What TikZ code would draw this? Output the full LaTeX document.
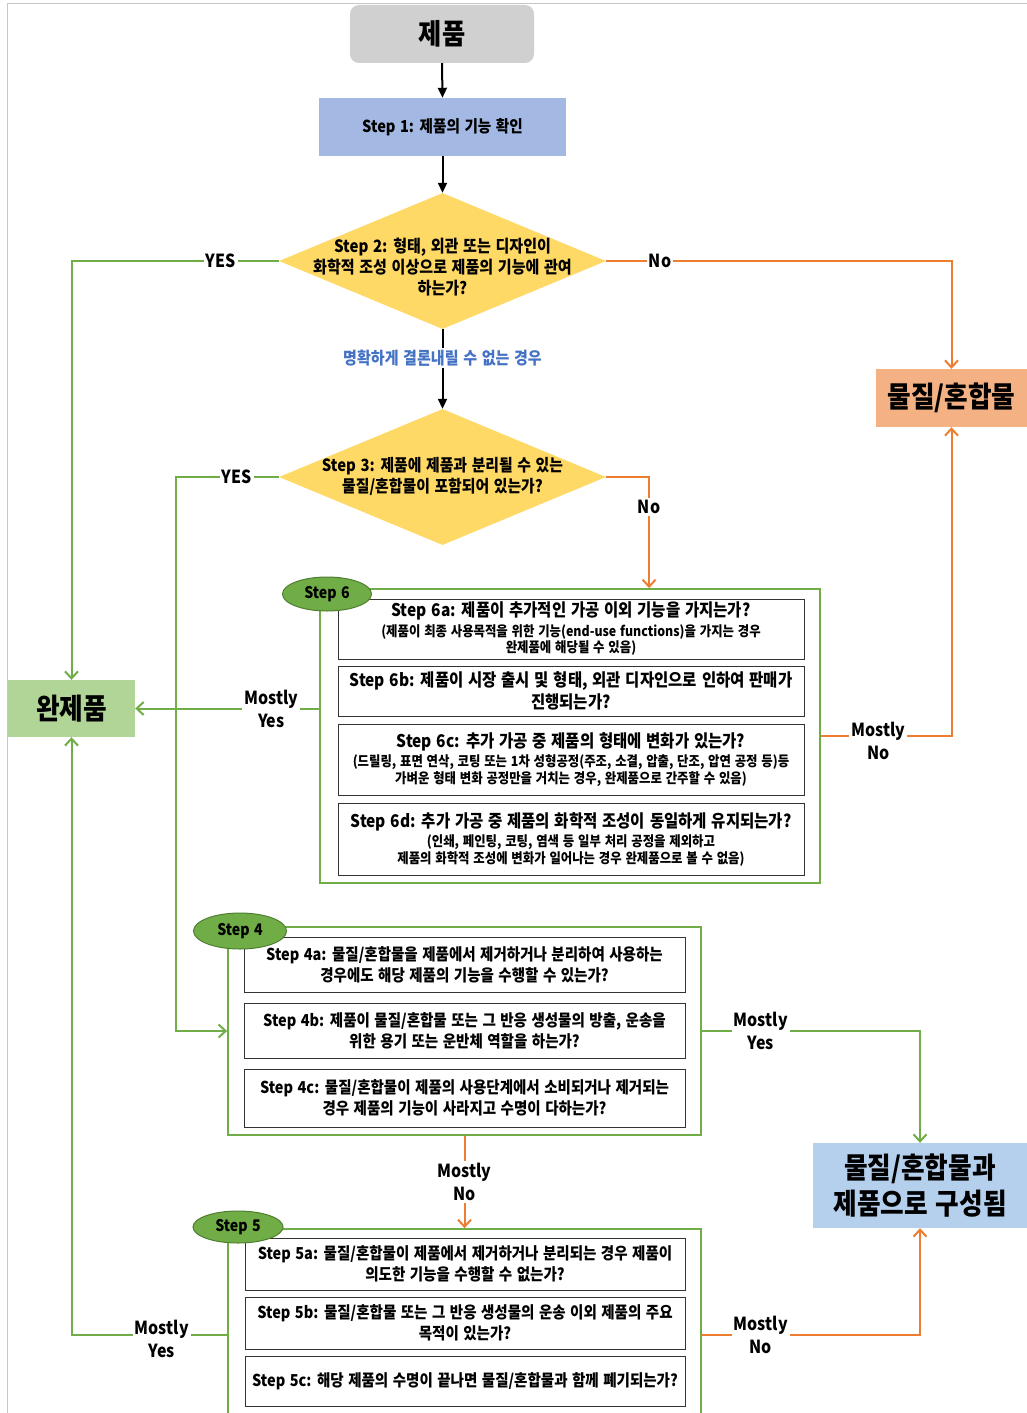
\documentclass[tikz,border=0pt]{standalone}
\usepackage{fontspec}
\setmainfont{Noto Sans CJK KR}[FakeStretch=0.885,WordSpace=1.35]
\usetikzlibrary{shapes.geometric,arrows.meta}
\definecolor{lgreen}{HTML}{70AD47}
\definecolor{dgreen}{HTML}{4E7F30}
\definecolor{lorange}{HTML}{ED7D31}
\definecolor{boxgray}{HTML}{D0D0D0}
\definecolor{steponeblue}{HTML}{A3B9E3}
\definecolor{dyellow}{HTML}{FFD966}
\definecolor{matorange}{HTML}{F4B183}
\definecolor{wangreen}{HTML}{B0D597}
\definecolor{mixblue}{HTML}{B4D0EC}
\definecolor{txtblue}{HTML}{4472C4}
\newcommand{\fsz}[2]{\fontsize{#1pt}{#2pt}\selectfont\bfseries}
\begin{document}
\begin{tikzpicture}[x=1pt,y=-1pt,
  qbox/.style={draw=black!80, line width=0.9pt, inner sep=0pt, align=center},
  frame/.style={draw=lgreen, line width=1.8pt, inner sep=0pt},
  stepoval/.style={ellipse, draw=dgreen, line width=1pt, fill=lgreen, inner sep=0pt, font=\fsz{16}{18}},
  bigbox/.style={inner sep=0pt, align=center, font=\fsz{29}{36}},
  lbl/.style={fill=white, inner sep=2pt, align=center, font=\fsz{18}{23}},
  blk/.style={draw=black, line width=2pt, -{Triangle[length=10pt,width=9pt]}},
  garr/.style={draw=lgreen, line width=2pt, -{Straight Barb[length=7pt,width=13pt,line width=2pt]}},
  oarr/.style={draw=lorange, line width=2pt, -{Straight Barb[length=7pt,width=13pt,line width=2pt]}}
]
\useasboundingbox (0,0) rectangle (1027,1413);
\clip (0,0) rectangle (1027,1413);
\fill[white] (0,0) rectangle (1027,1413);
\draw[gray!45, line width=1pt] (7,1413) -- (7,4) -- (1027,4);

% top nodes
\node[rounded corners=9pt, fill=boxgray, minimum width=184pt, minimum height=58pt, font=\fsz{28.5}{30}] (prod) at (442,34) {제품};
\node[fill=steponeblue, minimum width=247pt, minimum height=58pt, font=\fsz{16.5}{20}] (s1) at (442.5,127) {Step 1: 제품의 기능 확인};

% diamonds
\node[diamond, fill=dyellow, minimum width=327pt, minimum height=136pt, inner sep=0pt] (s2) at (442.5,261) {};
\node[align=center, font=\fsz{17}{21}] (s2t) at (442.5,267) {Step 2: 형태, 외관 또는 디자인이\\화학적 조성 이상으로 제품의 기능에 관여\\하는가?};
\node[diamond, fill=dyellow, minimum width=327pt, minimum height=136pt, inner sep=0pt] (s3) at (442.5,477) {};
\node[align=center, font=\fsz{16.8}{21}] (s3t) at (442.5,476.5) {Step 3: 제품에 제품과 분리될 수 있는\\물질/혼합물이 포함되어 있는가?};

% result boxes
\node[bigbox, fill=matorange, minimum width=151pt, minimum height=58pt] (mat) at (951.5,398) {물질/혼합물};
\node[bigbox, fill=wangreen, minimum width=127pt, minimum height=57pt] (wan) at (71.5,708.5) {완제품};
\node[bigbox, fill=mixblue, minimum width=214pt, minimum height=85pt] (mix) at (920,1185.5) {물질/혼합물과\\제품으로 구성됨};

% Step 6 frame
\node[frame, minimum width=500pt, minimum height=294pt] (f6) at (570,736) {};
\node[qbox, minimum width=466pt, minimum height=60pt, font=\fsz{14}{16.5}] (s6a) at (571,629) {{\fsz{17.5}{21}Step 6a: 제품이 추가적인 가공 이외 기능을 가지는가?}\\[3pt](제품이 최종 사용목적을 위한 기능(end-use functions)을 가지는 경우\\완제품에 해당될 수 있음)};
\node[qbox, minimum width=466pt, minimum height=50pt, font=\fsz{17.5}{22}] (s6b) at (571,691) {Step 6b: 제품이 시장 출시 및 형태, 외관 디자인으로 인하여 판매가\\진행되는가?};
\node[qbox, minimum width=466pt, minimum height=71pt, font=\fsz{14}{17}] (s6c) at (571,759.5) {{\fsz{17.5}{21}Step 6c: 추가 가공 중 제품의 형태에 변화가 있는가?}\\[2pt](드릴링, 표면 연삭, 코팅 또는 1차 성형공정(주조, 소결, 압출, 단조, 압연 공정 등)등\\가벼운 형태 변화 공정만을 거치는 경우, 완제품으로 간주할 수 있음)};
\node[qbox, minimum width=466pt, minimum height=72pt, font=\fsz{14}{17}] (s6d) at (571,839) {{\fsz{17.5}{21}Step 6d: 추가 가공 중 제품의 화학적 조성이 동일하게 유지되는가?}\\[2pt](인쇄, 페인팅, 코팅, 염색 등 일부 처리 공정을 제외하고\\제품의 화학적 조성에 변화가 일어나는 경우 완제품으로 볼 수 없음)};
\node[stepoval, minimum width=89pt, minimum height=34pt] (e6) at (327,594) {Step 6};

% Step 4 frame
\node[frame, minimum width=473pt, minimum height=208pt] (f4) at (464.5,1031) {};
\node[qbox, minimum width=441pt, minimum height=55pt, font=\fsz{16.4}{21}] (s4a) at (464.5,964.5) {Step 4a: 물질/혼합물을 제품에서 제거하거나 분리하여 사용하는\\경우에도 해당 제품의 기능을 수행할 수 있는가?};
\node[qbox, minimum width=441pt, minimum height=55pt, font=\fsz{16.4}{21}] (s4b) at (464.5,1030.5) {Step 4b: 제품이 물질/혼합물 또는 그 반응 생성물의 방출, 운송을\\위한 용기 또는 운반체 역할을 하는가?};
\node[qbox, minimum width=441pt, minimum height=58pt, font=\fsz{16.4}{21}] (s4c) at (464.5,1098) {Step 4c: 물질/혼합물이 제품의 사용단계에서 소비되거나 제거되는\\경우 제품의 기능이 사라지고 수명이 다하는가?};
\node[stepoval, minimum width=93pt, minimum height=36pt] (e4) at (240,931) {Step 4};

% Step 5 frame
\node[frame, minimum width=473pt, minimum height=211pt] (f5) at (464.5,1334.5) {};
\node[qbox, minimum width=440pt, minimum height=52pt, font=\fsz{16.4}{21}] (s5a) at (465,1264) {Step 5a: 물질/혼합물이 제품에서 제거하거나 분리되는 경우 제품이\\의도한 기능을 수행할 수 없는가?};
\node[qbox, minimum width=440pt, minimum height=52pt, font=\fsz{16.4}{21}] (s5b) at (465,1323) {Step 5b: 물질/혼합물 또는 그 반응 생성물의 운송 이외 제품의 주요\\목적이 있는가?};
\node[qbox, minimum width=440pt, minimum height=50pt, font=\fsz{16.4}{21}] (s5c) at (465,1381) {Step 5c: 해당 제품의 수명이 끝나면 물질/혼합물과 함께 폐기되는가?};
\node[stepoval, minimum width=90pt, minimum height=32pt] (e5) at (238,1227) {Step 5};

% connectors
\draw[blk] (prod.south) -- (s1.north);
\draw[blk] (s1.south) -- (s2.north);
\draw[blk] (s2.south) -- node[lbl, pos=0.36, text=txtblue, font=\fsz{17}{20}] (unclear) {명확하게 결론내릴 수 없는 경우} (s3.north);

\draw[garr] (s2.west) -| node[lbl, pos=0.14] (yes2) {YES} (wan.north);
\draw[oarr] (s2.east) -| node[lbl, pos=0.078] (no2) {No} (mat.north);

\coordinate (b3) at (176,477);
\draw[garr] (s3.west) -- node[lbl, pos=0.41] (yes3) {YES} (b3) |- (f4.west);
\draw[oarr] (s3.east) -| node[lbl, pos=0.634] (no3) {No} ([xshift=330pt]f6.north west);

\draw[garr] (f6.west |- wan.east) -- node[lbl, pos=0.26] (my6) {Mostly\\Yes} (wan.east);
\draw[oarr] (f6.east) -| node[lbl, pos=0.22, yshift=-5pt] (mn6) {Mostly\\No} (mat.south);

\draw[garr] (f4.east) -| node[lbl, pos=0.135] (my4) {Mostly\\Yes} (mix.north);
\draw[oarr] (f4.south) -- node[lbl] (mn4) {Mostly\\No} (f5.north);

\draw[garr] (f5.west) -| node[lbl, pos=0.21, yshift=-4pt] (my5) {Mostly\\Yes} (wan.south);
\draw[oarr] (f5.east) -| node[lbl, pos=0.135] (mn5) {Mostly\\No} (mix.south);
\end{tikzpicture}
\end{document}
